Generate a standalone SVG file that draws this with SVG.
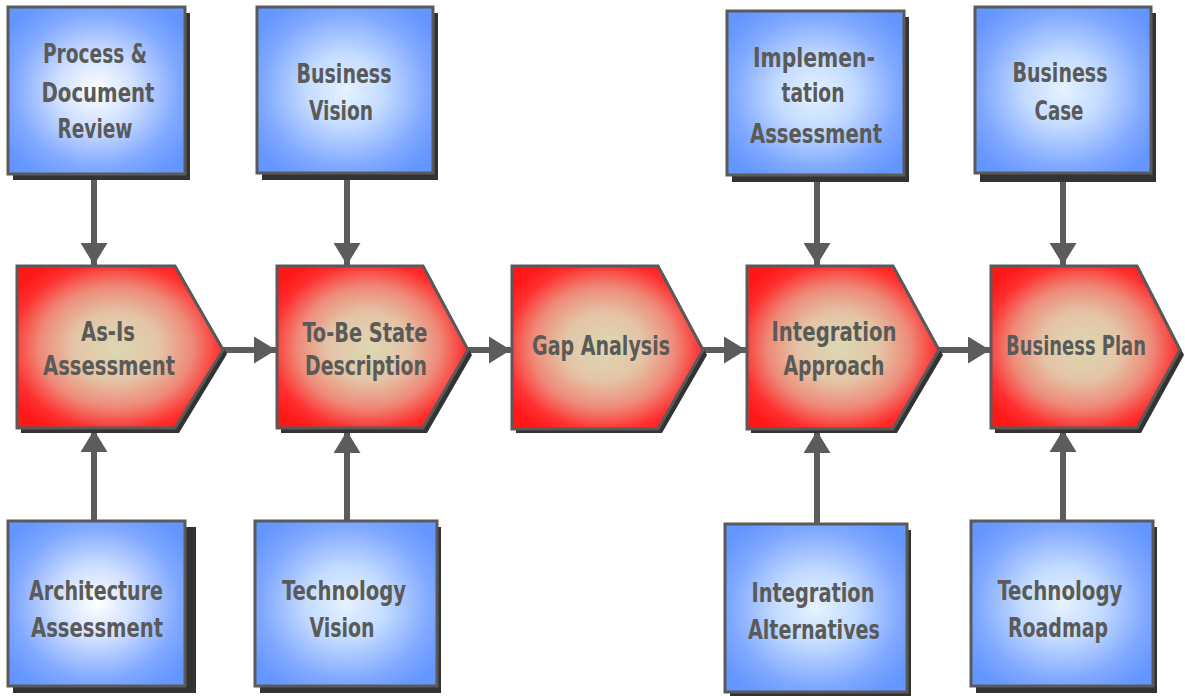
<svg xmlns="http://www.w3.org/2000/svg" width="1185" height="696" viewBox="0 0 1185 696">
<defs>
<radialGradient id="gBlue" cx="0.5" cy="0.5" r="0.62">
<stop offset="0" stop-color="#e6f2ff"/>
<stop offset="0.35" stop-color="#c4dcff"/>
<stop offset="0.75" stop-color="#80a8ff"/>
<stop offset="1" stop-color="#6396ff"/>
</radialGradient>
<radialGradient id="gBlueW" cx="0.5" cy="0.5" r="0.62">
<stop offset="0" stop-color="#ffffff"/>
<stop offset="0.35" stop-color="#d0e0ff"/>
<stop offset="0.75" stop-color="#80a8ff"/>
<stop offset="1" stop-color="#6396ff"/>
</radialGradient>
<radialGradient id="gRed" cx="0.48" cy="0.5" r="0.6">
<stop offset="0" stop-color="#dcd8b2"/>
<stop offset="0.35" stop-color="#e4c4a6"/>
<stop offset="0.62" stop-color="#ee8a78"/>
<stop offset="0.85" stop-color="#ff3030"/>
<stop offset="1" stop-color="#ff1818"/>
</radialGradient>
<marker id="ah" viewBox="0 0 22 27" refX="22" refY="13.5" markerWidth="22" markerHeight="27" markerUnits="userSpaceOnUse" orient="auto">
<path d="M0,0 L22,13.5 L0,27 Z" fill="#5a5d5a"/>
</marker>
</defs>
<style>
.sh{fill:#333333}
.box{stroke:#5a5a5a;stroke-width:3}
.pent{fill:url(#gRed);stroke:#5a5a5a;stroke-width:3}
.t{font-family:"DejaVu Sans Condensed","DejaVu Sans","Liberation Sans",sans-serif;font-weight:bold;font-size:26px;fill:#5a5a58;text-anchor:middle}
.c{stroke:#5a5d5a;stroke-width:6;fill:none;marker-end:url(#ah)}
</style>

<g id="connectors">
<line class="c" x1="94" y1="175" x2="94" y2="265"/>
<line class="c" x1="94" y1="520" x2="94" y2="430"/>
<line class="c" x1="347" y1="175" x2="347" y2="265"/>
<line class="c" x1="347" y1="520" x2="347" y2="431"/>
<line class="c" x1="817" y1="177" x2="817" y2="265"/>
<line class="c" x1="817" y1="523" x2="817" y2="431"/>
<line class="c" x1="1063" y1="175" x2="1063" y2="265"/>
<line class="c" x1="1063" y1="520" x2="1063" y2="430"/>
<line class="c" x1="222" y1="350" x2="276" y2="350"/>
<line class="c" x1="468" y1="350" x2="511" y2="350"/>
<line class="c" x1="702" y1="350" x2="746" y2="350"/>
<line class="c" x1="939" y1="350" x2="990" y2="350"/>
</g>

<g id="n-process">
<rect class="sh" x="13" y="13" width="177" height="167"/>
<rect class="box" x="8" y="7" width="177" height="167" fill="url(#gBlueW)"/>
<text class="t" x="95" y="63" textLength="104" lengthAdjust="spacingAndGlyphs">Process &amp;</text>
<text class="t" x="98" y="102" textLength="113" lengthAdjust="spacingAndGlyphs">Document</text>
<text class="t" x="95" y="138" textLength="75" lengthAdjust="spacingAndGlyphs">Review</text>
</g>

<g id="n-bvision">
<rect class="sh" x="262" y="13" width="176" height="167"/>
<rect class="box" x="257" y="7" width="176" height="166" fill="url(#gBlue)"/>
<text class="t" x="344" y="83" textLength="95" lengthAdjust="spacingAndGlyphs">Business</text>
<text class="t" x="341" y="120" textLength="64" lengthAdjust="spacingAndGlyphs">Vision</text>
</g>

<g id="n-impl">
<rect class="sh" x="732" y="17" width="177" height="165"/>
<rect class="box" x="727" y="11" width="177" height="164" fill="url(#gBlue)"/>
<text class="t" x="814" y="67" textLength="122" lengthAdjust="spacingAndGlyphs">Implemen-</text>
<text class="t" x="813" y="102" textLength="63" lengthAdjust="spacingAndGlyphs">tation</text>
<text class="t" x="816" y="143" textLength="132" lengthAdjust="spacingAndGlyphs">Assessment</text>
</g>

<g id="n-bcase">
<rect class="sh" x="980" y="13" width="176" height="169"/>
<rect class="box" x="975" y="7" width="176" height="166" fill="url(#gBlue)"/>
<text class="t" x="1060" y="82" textLength="95" lengthAdjust="spacingAndGlyphs">Business</text>
<text class="t" x="1059" y="120" textLength="49" lengthAdjust="spacingAndGlyphs">Case</text>
</g>

<g id="n-asis">
<path class="sh" d="M21,271 H179 L227,354 L179,433 H21 Z"/>
<path class="pent" d="M17,266 H175 L223,350 L175,428 H17 Z"/>
<text class="t" x="108" y="341" textLength="54" lengthAdjust="spacingAndGlyphs">As-Is</text>
<text class="t" x="109" y="375" textLength="132" lengthAdjust="spacingAndGlyphs">Assessment</text>
</g>

<g id="n-tobe">
<path class="sh" d="M281,271 H427 L472,355 L427,433 H281 Z"/>
<path class="pent" d="M277,266 H423 L468,350 L423,428 H277 Z"/>
<text class="t" x="365" y="342" textLength="125" lengthAdjust="spacingAndGlyphs">To-Be State</text>
<text class="t" x="366" y="375" textLength="122" lengthAdjust="spacingAndGlyphs">Description</text>
</g>

<g id="n-gap">
<path class="sh" d="M516,271 H662 L707,355 L662,433 H516 Z"/>
<path class="pent" d="M512,266 H658 L703,350 L658,429 H512 Z"/>
<text class="t" x="601" y="355" textLength="138" lengthAdjust="spacingAndGlyphs">Gap Analysis</text>
</g>

<g id="n-intapp">
<path class="sh" d="M751,271 H897 L943,355 L897,433 H751 Z"/>
<path class="pent" d="M747,266 H893 L939,350 L893,429 H747 Z"/>
<text class="t" x="834" y="341" textLength="125" lengthAdjust="spacingAndGlyphs">Integration</text>
<text class="t" x="834" y="375" textLength="101" lengthAdjust="spacingAndGlyphs">Approach</text>
</g>

<g id="n-bplan">
<path class="sh" d="M995,271 H1141 L1184,355 L1141,433 H995 Z"/>
<path class="pent" d="M991,266 H1137 L1180,350 L1137,428 H991 Z"/>
<text class="t" x="1076" y="355" textLength="140" lengthAdjust="spacingAndGlyphs">Business Plan</text>
</g>

<g id="n-arch">
<rect class="sh" x="13" y="527" width="183" height="166"/>
<rect class="box" x="8" y="521" width="177" height="165" fill="url(#gBlueW)"/>
<text class="t" x="96" y="600" textLength="134" lengthAdjust="spacingAndGlyphs">Architecture</text>
<text class="t" x="97" y="637" textLength="132" lengthAdjust="spacingAndGlyphs">Assessment</text>
</g>

<g id="n-tvision">
<rect class="sh" x="260" y="527" width="181" height="166"/>
<rect class="box" x="255" y="521" width="182" height="165" fill="url(#gBlue)"/>
<text class="t" x="344" y="600" textLength="124" lengthAdjust="spacingAndGlyphs">Technology</text>
<text class="t" x="342" y="637" textLength="65" lengthAdjust="spacingAndGlyphs">Vision</text>
</g>

<g id="n-intalt">
<rect class="sh" x="730" y="530" width="181" height="166"/>
<rect class="box" x="725" y="524" width="182" height="168" fill="url(#gBlue)"/>
<text class="t" x="813" y="602" textLength="123" lengthAdjust="spacingAndGlyphs">Integration</text>
<text class="t" x="814" y="639" textLength="132" lengthAdjust="spacingAndGlyphs">Alternatives</text>
</g>

<g id="n-troad">
<rect class="sh" x="976" y="527" width="181" height="166"/>
<rect class="box" x="971" y="521" width="182" height="165" fill="url(#gBlue)"/>
<text class="t" x="1060" y="600" textLength="125" lengthAdjust="spacingAndGlyphs">Technology</text>
<text class="t" x="1058" y="637" textLength="100" lengthAdjust="spacingAndGlyphs">Roadmap</text>
</g>
</svg>
